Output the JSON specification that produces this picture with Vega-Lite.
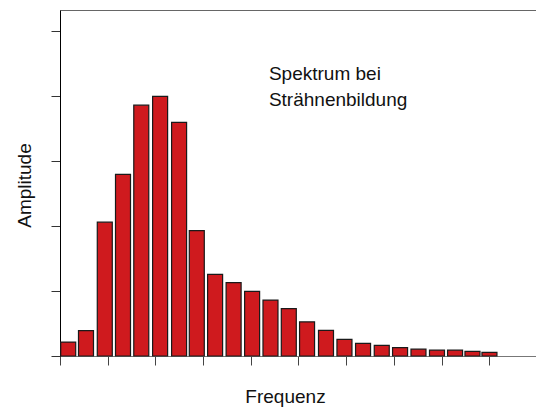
{
  "$schema": "https://vega.github.io/schema/vega-lite/v6.json",
  "width": 476,
  "height": 346,
  "autosize": {"type": "none"},
  "padding": {"left": 60, "top": 10, "right": 0, "bottom": 52},
  "background": "white",
  "config": {
    "view": {"stroke": "#666666", "strokeWidth": 1},
    "font": "Liberation Sans",
    "axis": {"labels": false, "grid": false, "titleFont": "Liberation Sans", "titleFontSize": 19, "titleFontWeight": "normal", "titleColor": "#111111"}
  },
  "datasets": {
    "bars": [
      {"f": 0.172, "a": 0.43},
      {"f": 0.545, "a": 0.78},
      {"f": 0.939, "a": 4.12},
      {"f": 1.321, "a": 5.59},
      {"f": 1.704, "a": 7.72},
      {"f": 2.099, "a": 7.99},
      {"f": 2.497, "a": 7.19},
      {"f": 2.868, "a": 3.86},
      {"f": 3.252, "a": 2.51},
      {"f": 3.640, "a": 2.26},
      {"f": 4.028, "a": 1.99},
      {"f": 4.413, "a": 1.72},
      {"f": 4.797, "a": 1.46},
      {"f": 5.180, "a": 1.05},
      {"f": 5.577, "a": 0.79},
      {"f": 5.964, "a": 0.51},
      {"f": 6.354, "a": 0.39},
      {"f": 6.746, "a": 0.33},
      {"f": 7.130, "a": 0.26},
      {"f": 7.516, "a": 0.21},
      {"f": 7.904, "a": 0.18},
      {"f": 8.283, "a": 0.18},
      {"f": 8.648, "a": 0.14},
      {"f": 9.004, "a": 0.11}
    ],
    "note": [
      {"f": 4.38, "a": 8.5, "label": ["Spektrum bei", "Strähnenbildung"]}
    ]
  },
  "layer": [
    {
      "data": {"name": "bars"},
      "mark": {"type": "bar", "width": 15, "fill": "#CF1A1E", "stroke": "#1a1a1a", "strokeWidth": 1.2},
      "encoding": {
        "x": {
          "field": "f", "type": "quantitative",
          "scale": {"domain": [0, 9.98], "nice": false, "zero": false, "padding": 0},
          "axis": {
            "title": "Frequenz", "values": [0,1,2,3,4,5,6,7,8,9],
            "tickSize": 9, "tickColor": "#444444", "domainColor": "#777777",
            "titleX": 225, "titleY": 46, "titleBaseline": "alphabetic", "titleAlign": "center"
          }
        },
        "y": {
          "field": "a", "type": "quantitative",
          "scale": {"domain": [0, 10.65], "nice": false, "padding": 0},
          "axis": {
            "title": "Amplitude", "values": [0,1,2,3,4,5,6,7,8,9,10],
            "tickSize": 9, "tickColor": "#333333", "domainColor": "#000000",
            "titleX": -30, "titleY": 175, "titleAngle": -90, "titleBaseline": "alphabetic", "titleAlign": "center"
          }
        }
      }
    },
    {
      "data": {"name": "note"},
      "mark": {"type": "text", "align": "left", "baseline": "alphabetic", "fontSize": 19, "lineHeight": 26, "color": "#111111", "font": "Liberation Sans"},
      "encoding": {
        "x": {"field": "f", "type": "quantitative"},
        "y": {"field": "a", "type": "quantitative"},
        "text": {"field": "label"}
      }
    }
  ]
}
